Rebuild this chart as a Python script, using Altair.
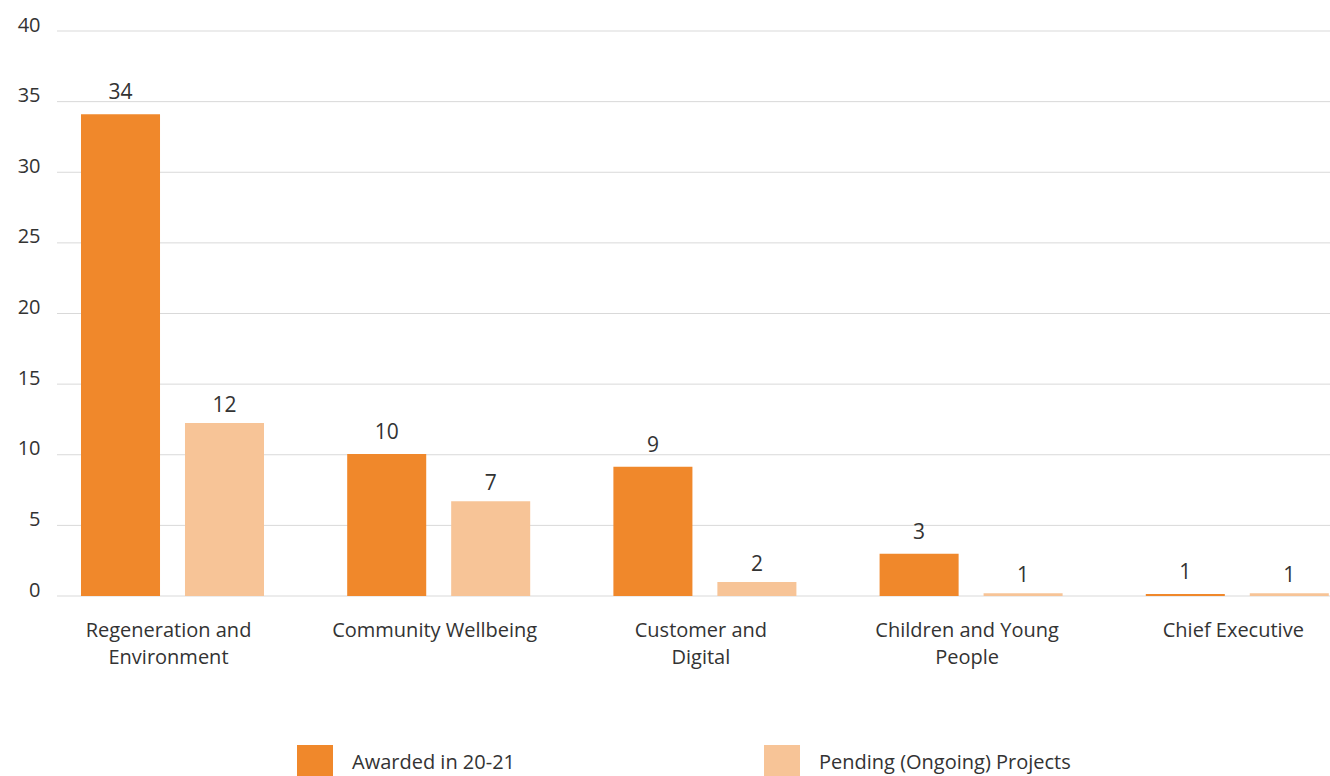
import altair as alt
import pandas as pd

categories = ["Regeneration and Environment", "Community Wellbeing", "Customer and Digital",
              "Children and Young People", "Chief Executive"]
category_lines = {
    "Regeneration and Environment": ["Regeneration and", "Environment"],
    "Community Wellbeing": ["Community Wellbeing"],
    "Customer and Digital": ["Customer and", "Digital"],
    "Children and Young People": ["Children and Young", "People"],
    "Chief Executive": ["Chief Executive"],
}
series = ["Awarded in 20-21", "Pending (Ongoing) Projects"]
# bar heights as drawn
awarded_bar = [34.1, 10.05, 9.15, 3.0, 0.15]
pending_bar = [12.25, 6.7, 1.0, 0.2, 0.2]
# data labels as printed
awarded_label = [34, 10, 9, 3, 1]
pending_label = [12, 7, 2, 1, 1]
y_ticks = [0, 5, 10, 15, 20, 25, 30, 35, 40]
colors = ["#F0882B", "#F7C497"]

rows = []
for i, c in enumerate(categories):
    rows.append({"category": c, "series": series[0], "value": awarded_bar[i], "label": awarded_label[i]})
    rows.append({"category": c, "series": series[1], "value": pending_bar[i], "label": pending_label[i]})
df = pd.DataFrame(rows)
grid_df = pd.DataFrame({"value": y_ticks})

parts = []
for c in categories:
    arr = "[" + ", ".join("'" + s + "'" for s in category_lines[c]) + "]"
    parts.append(f"datum.label == '{c}' ? {arr} : ")
label_expr = "".join(parts) + "datum.label"

FONT = "Open Sans"
TXT = "#333333"

x_enc = alt.X("category:N", sort=categories, title=None,
              scale=alt.Scale(range=[-17.6, 1313.4], paddingInner=0, paddingOuter=0),
              axis=alt.Axis(labelExpr=label_expr, labelAngle=0, ticks=False, domain=False, grid=False,
                            labelPadding=24, labelFontSize=20, labelLineHeight=27,
                            labelColor=TXT, labelFont=FONT, labelOffset=-4, labelLimit=400))
xoff_enc = alt.XOffset("series:N", sort=series,
                       scale=alt.Scale(paddingInner=0.24, paddingOuter=0.4))
y_enc = alt.Y("value:Q", title=None,
              scale=alt.Scale(domain=[0, 40], nice=False),
              axis=alt.Axis(values=y_ticks, ticks=False, domain=False, grid=False, labelPadding=17,
                            labelFontSize=20, labelColor=TXT, labelFont=FONT,
                            labelBaseline="alphabetic"))

# horizontal grid lines spanning only the plot area
grid = alt.Chart(grid_df).mark_rule(color="#D9D9D9", strokeWidth=1).encode(
    y=y_enc, x=alt.value(0), x2=alt.value(1273)
)

base = alt.Chart(df)

bars = base.mark_bar().encode(
    x=x_enc, xOffset=xoff_enc, y=y_enc,
    color=alt.Color("series:N", sort=series,
                    scale=alt.Scale(domain=series, range=colors),
                    legend=alt.Legend(title=None, orient="none", legendX=240, legendY=714,
                                      direction="horizontal", symbolType="square",
                                      symbolSize=1296, symbolStrokeWidth=0, labelOffset=19,
                                      labelFontSize=20, labelFont=FONT, labelColor=TXT,
                                      columnPadding=248, padding=0, labelLimit=400)),
)

lab_a = base.mark_text(baseline="bottom", fontSize=21, font=FONT, color=TXT, dy=-11).encode(
    x=x_enc, xOffset=xoff_enc, y=y_enc, text=alt.Text("label:Q")
).transform_filter(alt.datum.series == series[0])

lab_p = base.mark_text(baseline="bottom", fontSize=21, font=FONT, color=TXT, dy=-7).encode(
    x=x_enc, xOffset=xoff_enc, y=y_enc, text=alt.Text("label:Q")
).transform_filter(alt.datum.series == series[1])

chart = alt.layer(grid, bars, lab_a, lab_p).properties(
    width=1273, height=565,
    background="white",
    autosize=alt.AutoSizeParams(type="none"),
    padding={"left": 57, "top": 31, "right": 0, "bottom": 180},
).configure_view(stroke="transparent", strokeWidth=0)

chart.save("out.html", embed_options={"renderer": "svg", "actions": False})
